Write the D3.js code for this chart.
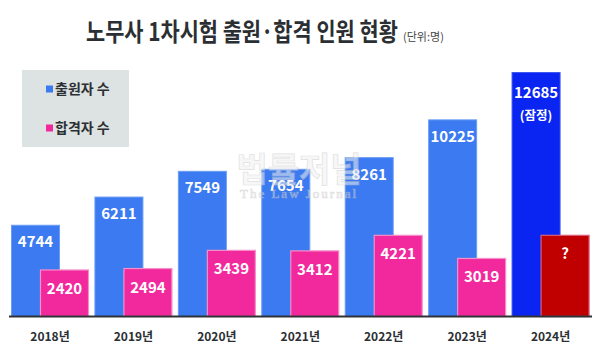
<!DOCTYPE html>
<html>
<head>
    <meta charset="UTF-8">
    <title></title>
    <style>
        body { margin: 0; background: #fff; }
        svg { display: block; font-family: 'Noto Sans CJK KR', 'Noto Sans', sans-serif; }
        .title { font-weight: 700; fill: #2b2f33; }
        .unit { fill: #444; font-size: 11px; }
        .legend text { font-weight: 700; font-size: 14px; fill: #2b2f33; }
        .barlabel { font-weight: 700; fill: #fff; text-anchor: middle; }
        .xlabel { font-weight: 700; font-size: 12px; fill: #2b2f33; text-anchor: middle; }
        .wm { fill: #f2f2f2; stroke: #c8c8c8; stroke-width: 0.7; text-anchor: middle; }
    </style>
</head>
<body>
<script src="https://d3js.org/d3.v7.min.js"></script>
<script>
    // data
    var years = ["2018년", "2019년", "2020년", "2021년", "2022년", "2023년", "2024년"];
    var applicants = [4744, 6211, 7549, 7654, 8261, 10225, 12685];
    var passers = [2420, 2494, 3439, 3412, 4221, 3019, null];   // 2024 not yet known
    var seriesNames = ["출원자 수", "합격자 수"];

    var width = 600, height = 352;
    var svg = d3.select("body").append("svg")
        .attr("width", width)
        .attr("height", height);

    var baseY = 316.5;
    var x = d3.scaleBand().domain(years).range([12 - 0.5, 595.5]).paddingInner(0).paddingOuter(0);
    var y = d3.scaleLinear().domain([0, 13000]).range([baseY, baseY - 250]);
    var barW = 48, offset = 29;

    // title (squeezed horizontally to fit like the original)
    var titleG = svg.append("g");
    var title = titleG.append("text").attr("class", "title")
        .attr("font-size", 25)
        .text("노무사 1차시험 출원·합격 인원 현황");
    var tw = title.node().getComputedTextLength();
    titleG.attr("transform", "translate(86,41) scale(" + (312 / tw) + ",1)");
    svg.append("text").attr("class", "unit")
        .attr("x", 403).attr("y", 41)
        .text("(단위:명)");

    // legend box
    var legend = svg.append("g").attr("class", "legend");
    legend.append("rect").attr("x", 22).attr("y", 70).attr("width", 107).attr("height", 77)
        .attr("fill", "#dde2e2");
    var legColors = ["#3b7af0", "#f2299d"];
    seriesNames.forEach(function(n, i) {
        var ly = 89 + i * 39;
        legend.append("rect").attr("x", 46).attr("y", ly - 3.5).attr("width", 7).attr("height", 7)
            .attr("fill", legColors[i]);
        legend.append("text").attr("x", 55).attr("y", ly + 5).text(n);
    });

    var last = years.length - 1;

    // applicant bars
    svg.append("g").selectAll("rect")
        .data(applicants)
        .join("rect")
        .attr("x", function(d, i) { return x(years[i]); })
        .attr("y", function(d) { return y(d); })
        .attr("width", barW)
        .attr("height", function(d) { return baseY - y(d); })
        .attr("fill", function(d, i) { return i == last ? "#0a24f2" : "#3b7af0"; })
        .attr("stroke", function(d, i) { return i == last ? "#3a55f5" : "#6a9cf5"; })
        .attr("stroke-width", 1);

    // passer bars (2024 shown as "?")
    var pvals = passers.map(function(d, i) { return d == null ? 4221 : d; });
    svg.append("g").selectAll("rect")
        .data(pvals)
        .join("rect")
        .attr("x", function(d, i) { return x(years[i]) + offset; })
        .attr("y", function(d) { return y(d); })
        .attr("width", barW)
        .attr("height", function(d) { return baseY - y(d); })
        .attr("fill", function(d, i) { return passers[i] == null ? "#c00000" : "#f2299d"; })
        .attr("stroke", function(d, i) { return passers[i] == null ? "#d9607a" : "#f58fc9"; })
        .attr("stroke-width", 1.2);

    // labels
    svg.append("g").selectAll("text")
        .data(applicants)
        .join("text")
        .attr("class", "barlabel")
        .attr("font-size", 15)
        .attr("x", function(d, i) { return x(years[i]) + barW / 2; })
        .attr("y", function(d, i) { return y(d) + (i == last ? 25 : 22); })
        .text(function(d) { return d; });
    svg.append("text").attr("class", "barlabel").attr("font-size", 12.5)
        .attr("x", x(years[last]) + barW / 2)
        .attr("y", y(applicants[last]) + 47)
        .text("(잠정)");

    svg.append("g").selectAll("text")
        .data(pvals)
        .join("text")
        .attr("class", "barlabel")
        .attr("font-size", 15)
        .attr("x", function(d, i) { return x(years[i]) + offset + barW / 2; })
        .attr("y", function(d) { return y(d) + 24; })
        .text(function(d, i) { return passers[i] == null ? "?" : d; });

    // baseline
    svg.append("line").attr("x1", 9).attr("x2", 592).attr("y1", baseY).attr("y2", baseY)
        .attr("stroke", "#2f3336").attr("stroke-width", 2);

    // x labels
    svg.append("g").selectAll("text")
        .data(years)
        .join("text")
        .attr("class", "xlabel")
        .attr("x", function(d) { return x(d) + (offset + barW) / 2; })
        .attr("y", 341)
        .text(function(d) { return d; });

    // watermark, faint, on top (as in the original image)
    var wm = svg.append("g").attr("opacity", 0.55);
    wm.append("text").attr("class", "wm").attr("x", 299).attr("y", 182)
        .attr("font-size", 34).attr("font-weight", 700)
        .text("법률저널");
    wm.append("text").attr("class", "wm").attr("x", 299).attr("y", 198)
        .attr("font-size", 13).attr("letter-spacing", 2)
        .attr("font-family", "'Liberation Serif', serif")
        .text("The Law Journal");
</script>
</body>
</html>
